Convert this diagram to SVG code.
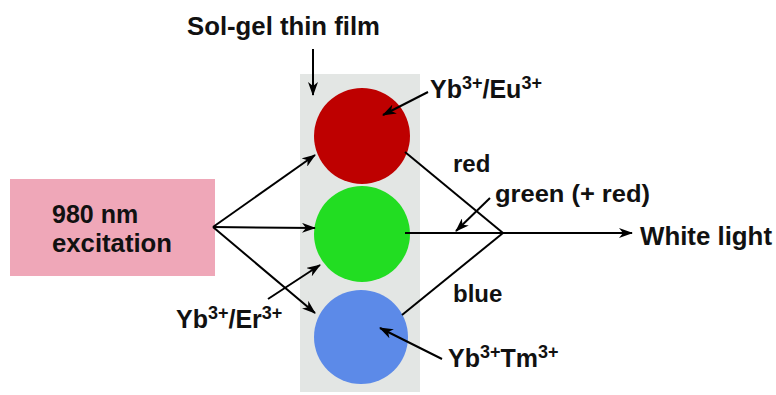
<svg xmlns="http://www.w3.org/2000/svg" width="776" height="395" viewBox="0 0 776 395">
<defs>
<marker id="ah" viewBox="0 0 14 10" refX="13" refY="5" markerWidth="14" markerHeight="10" markerUnits="userSpaceOnUse" orient="auto">
<path d="M0,0 L14,5 L0,10 L4,5 z" fill="#000"/>
</marker>
<style>
text{font-family:"Liberation Sans",Arial,sans-serif;font-weight:bold;fill:#111;}
.lbl{font-size:24px;}
.ion{font-size:25px;}
.sup{font-size:18px;}
.ln{stroke:#000;stroke-width:2;fill:none;}
.arr{stroke:#000;stroke-width:2;fill:none;marker-end:url(#ah);}
</style>
</defs>
<rect width="776" height="395" fill="#fff"/>
<g id="film">
<rect x="300" y="74" width="120" height="318" fill="#E3E6E4"/>
</g>
<g id="title">
<text x="187" y="35" style="font-size:25px" textLength="193" lengthAdjust="spacingAndGlyphs">Sol-gel thin film</text>
</g>
<g id="source">
<rect x="10" y="179" width="205" height="97" fill="#EFA7B8"/>
<text x="52" y="223" style="font-size:25px">980 nm</text>
<text x="52" y="252" style="font-size:25px" textLength="120" lengthAdjust="spacingAndGlyphs">excitation</text>
</g>
<g id="red-dot"><circle cx="362" cy="136" r="48" fill="#BE0000"/></g>
<g id="green-dot"><circle cx="362" cy="234" r="48" fill="#22DD22"/></g>
<g id="blue-dot"><circle cx="361" cy="337" r="47" fill="#5C8AE8"/></g>
<g id="connectors">
<line class="arr" x1="313" y1="49" x2="313" y2="95"/>
<line class="arr" x1="213" y1="227" x2="315" y2="155"/>
<line class="arr" x1="213" y1="227" x2="315" y2="228"/>
<line class="arr" x1="213" y1="227" x2="315" y2="313"/>
<line class="arr" x1="268" y1="299" x2="320" y2="265"/>
<line class="arr" x1="428" y1="92" x2="383" y2="115"/>
<line class="ln" x1="405" y1="152" x2="503" y2="233"/>
<line class="ln" x1="402" y1="315" x2="503" y2="233"/>
<line class="arr" x1="405" y1="233" x2="632" y2="233"/>
<line class="arr" x1="490" y1="198" x2="456" y2="231"/>
<line class="arr" x1="442" y1="359" x2="380" y2="328"/>
</g>
<g id="labels">
<text class="ion" x="430" y="98">Yb<tspan class="sup" dy="-9">3+</tspan><tspan dy="9">/Eu</tspan><tspan class="sup" dy="-9">3+</tspan></text>
<text class="ion" x="176" y="328">Yb<tspan class="sup" dy="-9">3+</tspan><tspan dy="9">/Er</tspan><tspan class="sup" dy="-9">3+</tspan></text>
<text class="ion" x="448" y="367">Yb<tspan class="sup" dy="-9">3+</tspan><tspan dy="9">Tm</tspan><tspan class="sup" dy="-9">3+</tspan></text>
<text class="lbl" x="453" y="172">red</text>
<text class="lbl" x="495" y="202" textLength="155" lengthAdjust="spacingAndGlyphs">green (+ red)</text>
<text class="lbl" x="453" y="302">blue</text>
<text x="640" y="245" style="font-size:25px" textLength="132" lengthAdjust="spacingAndGlyphs">White light</text>
</g>
</svg>
